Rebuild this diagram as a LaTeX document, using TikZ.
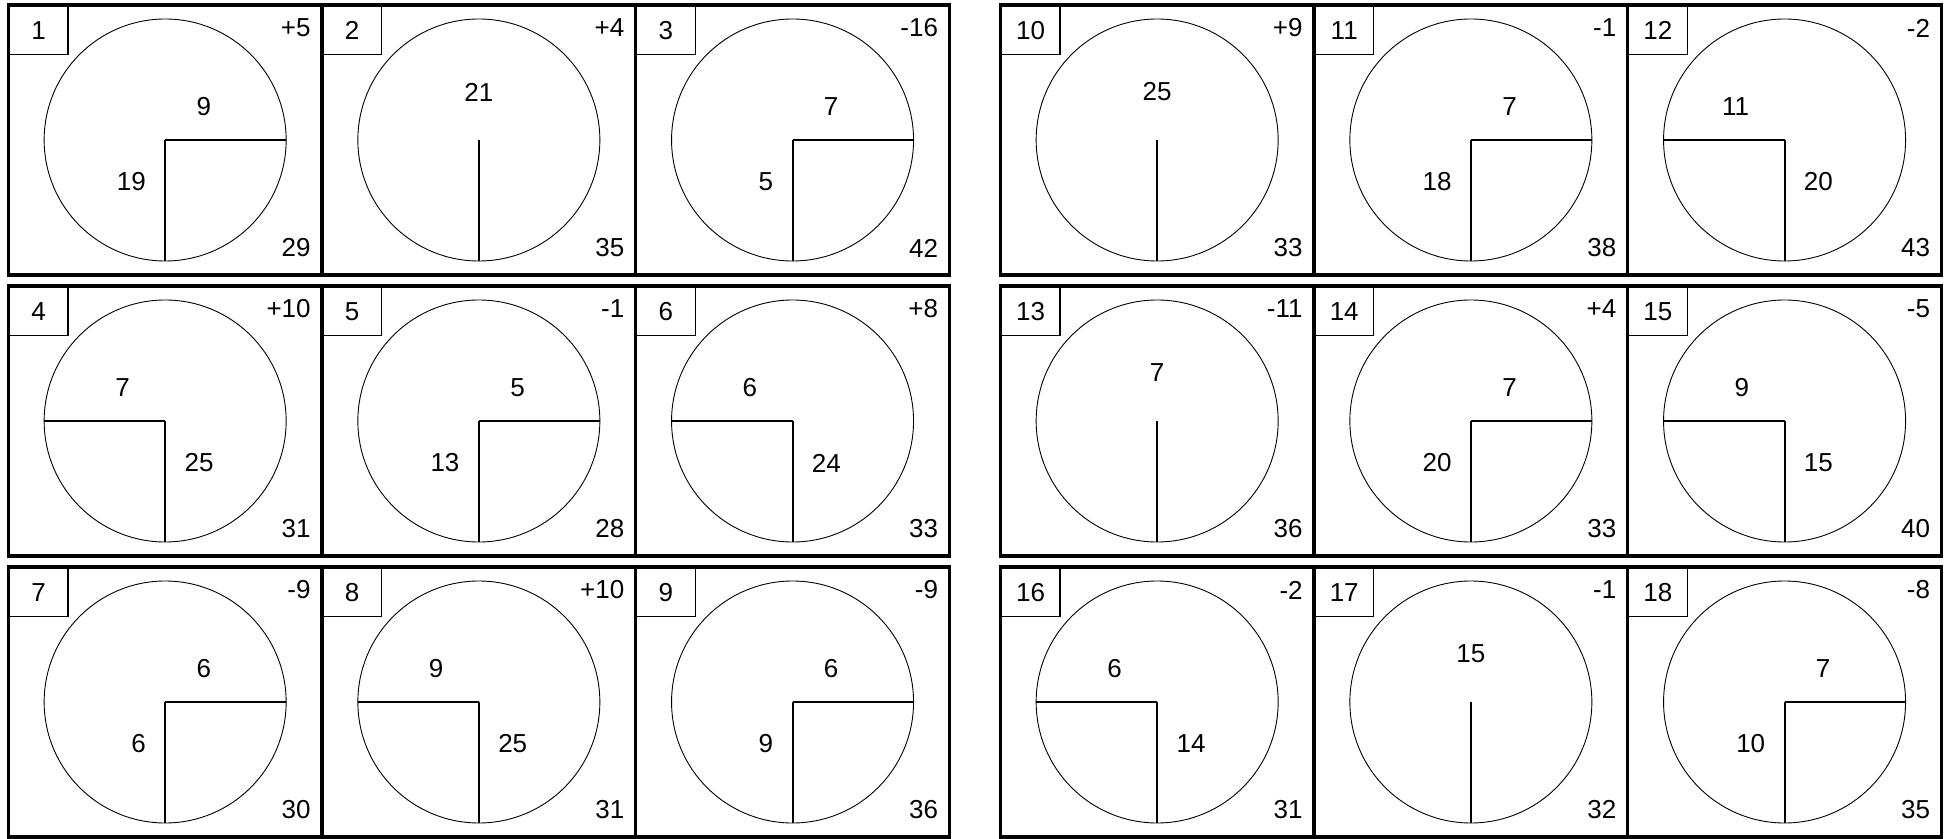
\documentclass[tikz,border=0pt]{standalone}
\usepackage{fontspec}
\setmainfont{Liberation Sans}
\tikzset{
  rowframe/.style={draw=black, line width=1.7pt},
  divider/.style={draw=black, line width=1.7pt},
  dial/.style={draw=black, line width=0.45pt},
  hand/.style={draw=black, line width=0.95pt},
  numtext/.style={font=\fontsize{13}{15}\selectfont, inner sep=0pt},
  tagbox/.style={numtext, draw=black, line width=0.7pt,
    minimum width=29.5pt, minimum height=24.5pt, anchor=north west}
}

\begin{document}
\begin{tikzpicture}[x=0.5pt, y=-0.5pt]
  \useasboundingbox (0,0) rectangle (1947,839);

  \foreach \n/\d/\s/\tot/\a/\b in {
      1/1/+5/29/9/19, 2/0/+4/35/21/x, 3/1/-16/42/7/5,
      4/-1/+10/31/7/25, 5/1/-1/28/5/13, 6/-1/+8/33/6/24,
      7/1/-9/30/6/6, 8/-1/+10/31/9/25, 9/1/-9/36/6/9,
      10/0/+9/33/25/x, 11/1/-1/38/7/18, 12/-1/-2/43/11/20,
      13/0/-11/36/7/x, 14/1/+4/33/7/20, 15/-1/-5/40/9/15,
      16/-1/-2/31/6/14, 17/0/-1/32/15/x, 18/1/-8/35/7/10}{
    \pgfmathtruncatemacro{\grp}{int((\n-1)/9)}
    \pgfmathtruncatemacro{\pos}{\n-1-9*\grp}
    \pgfmathtruncatemacro{\row}{int(\pos/3)}
    \pgfmathtruncatemacro{\col}{\pos-3*\row}
    \pgfmathsetmacro{\px}{8.3+992*\grp+313.7*\col}
    \pgfmathsetmacro{\py}{5+281*\row}

    \coordinate (c\n) at (\px+156.85,\py+135);
    \draw[dial] (c\n) circle[radius=121];
    \draw[hand] (c\n) -- ++(0,121);
    \ifnum\d=0
      \node[numtext] (upper\n) at ([shift={(0,-48)}]c\n) {\a};
    \else
      \draw[hand] (c\n) -- ++(\d*121,0);
      \ifnum\d=1
        \node[numtext, anchor=west] (upper\n) at ([shift={(31,-33)}]c\n) {\a};
        \node[numtext, anchor=east] (lower\n) at ([shift={(-19,42)}]c\n) {\b};
      \else
        \node[numtext, anchor=east] (upper\n) at ([shift={(-35,-33)}]c\n) {\a};
        \node[numtext, anchor=west] (lower\n) at ([shift={(19,42)}]c\n) {\b};
      \fi
    \fi

    \node[tagbox] (tag\n) at (\px,\py) {\n};
    \node[numtext, anchor=east] (sign\n) at (\px+302.7,\py+23) {\s};
    \node[numtext, anchor=east] (total\n) at (\px+302.7,\py+243) {\tot};
  }

  \foreach \grp in {0,1}
    \foreach \row in {0,1,2}{
      \pgfmathsetmacro{\fx}{8.3+992*\grp}
      \pgfmathsetmacro{\fy}{5+281*\row}
      \draw[rowframe] (\fx,\fy) rectangle ++(941.1,270);
      \draw[divider] (\fx+313.7,\fy) -- ++(0,270);
      \draw[divider] (\fx+627.4,\fy) -- ++(0,270);
    }
\end{tikzpicture}
\end{document}
